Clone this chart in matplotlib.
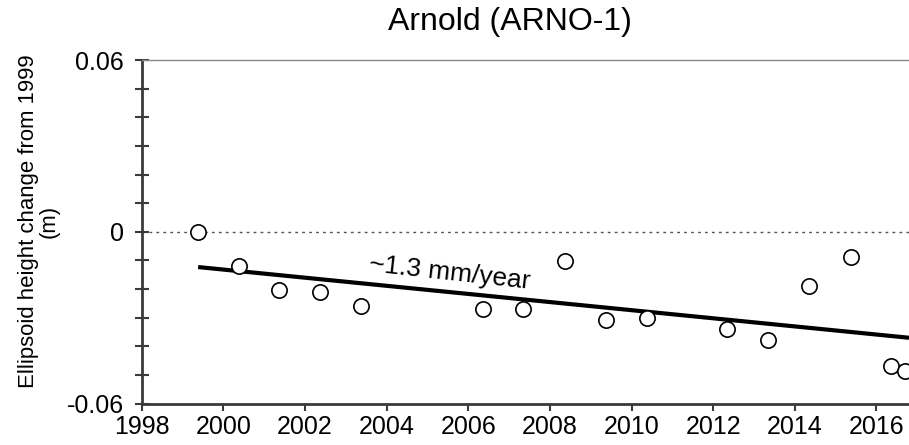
import matplotlib.pyplot as plt
import numpy as np

plt.rcParams['font.family'] = ['Liberation Sans', 'DejaVu Sans']

# survey epochs and height change (m)
years = [1999.38, 2000.38, 2001.37, 2002.36, 2003.38, 2006.37, 2007.35,
         2008.37, 2009.37, 2010.37, 2012.35, 2013.35, 2014.35, 2015.37,
         2016.36, 2016.70]
dh = [0.0, -0.0121, -0.0203, -0.0210, -0.0259, -0.0271, -0.0270,
      -0.0102, -0.0309, -0.0300, -0.0338, -0.0379, -0.0190, -0.0088,
      -0.0469, -0.0487]

# trend line end points
trend_x = [1999.38, 2016.8]
trend_y = [-0.0123, -0.0370]

fig = plt.figure(figsize=(9.09, 4.45), dpi=100)
ax = fig.add_axes([0.156, 0.093, 0.844, 0.772])

ax.axhline(0, color='#555555', lw=1.0, ls=(0, (2, 3)), zorder=1)
ax.plot(trend_x, trend_y, color='black', lw=3, solid_capstyle='butt', zorder=2)
ax.plot(years, dh, 'o', ms=11, mfc='white', mec='black', mew=1.2, zorder=3)

ax.text(2005.55, -0.0142, '~1.3 mm/year', fontsize=19, rotation=-6.3,
        ha='center', va='center', rotation_mode='anchor')

ax.set_xlim(1998, 2016.8)
ax.set_ylim(-0.06, 0.06)
ax.set_xticks(np.arange(1998, 2017, 2))
ax.set_yticks([-0.06, 0, 0.06])
ax.set_yticklabels(['-0.06', '0', '0.06'])
ax.set_yticks(np.arange(-0.05, 0.06, 0.01), minor=True)

for s in ['left', 'bottom']:
    ax.spines[s].set_color('#3a3a3a')
    ax.spines[s].set_linewidth(2)
ax.spines['top'].set_color('#888888')
ax.spines['top'].set_linewidth(1)
ax.spines['right'].set_visible(False)

ax.tick_params(axis='y', which='both', direction='inout', length=10, width=1.5,
               color='#3a3a3a', labelsize=18, pad=8)
ax.tick_params(axis='x', direction='out', length=5, width=1.5, color='#3a3a3a',
               labelsize=18, pad=3)

ax.set_ylabel('Ellipsoid height change from 1999\n(m)', fontsize=15.9,
              linespacing=1.0)
ax.yaxis.set_label_coords(-0.107, 0.531)

fig.text(0.561, 0.95, 'Arnold (ARNO-1)', fontsize=23, ha='center', va='center')

fig.savefig('out.png', dpi=100)
